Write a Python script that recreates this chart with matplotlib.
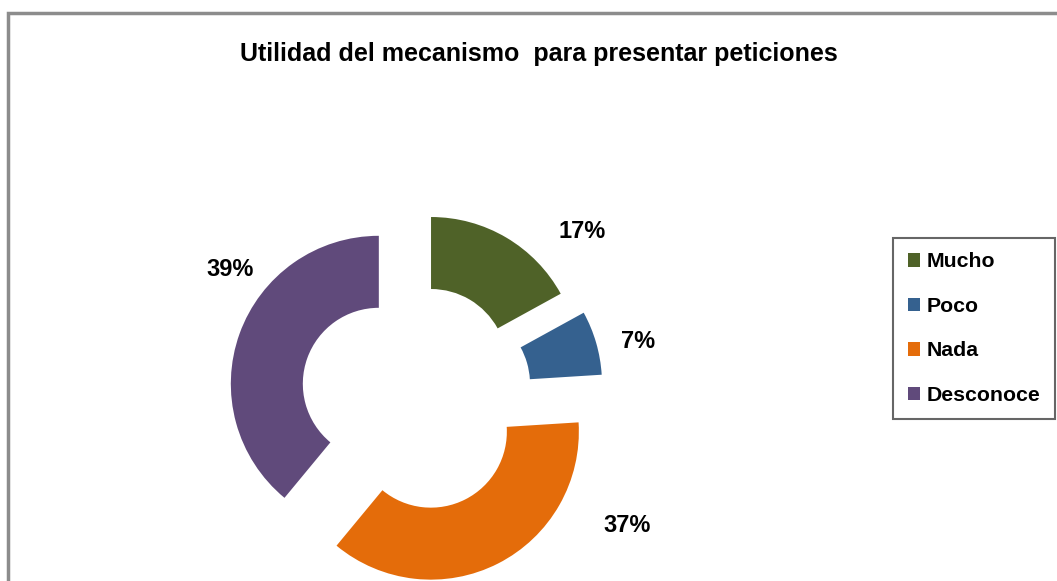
import matplotlib
matplotlib.use("Agg")
import matplotlib.pyplot as plt
from matplotlib.patches import Rectangle
from matplotlib import font_manager

categories = ["Mucho", "Poco", "Nada", "Desconoce"]
values = [17, 7, 37, 39]
pct_labels = ["17%", "7%", "37%", "39%"]
colors = ["#4F6228", "#35618F", "#E46C0A", "#604A7B"]
explode = [36, 43, 40, 36]
title = "Utilidad del mecanismo  para presentar peticiones"

names = {f.name for f in font_manager.fontManager.ttflist}
fam = None
for cand in ["Liberation Sans Narrow", "DejaVu Sans Condensed", "Liberation Sans"]:
    if cand in names:
        fam = cand
        break
if fam is None:
    fam = "DejaVu Sans"
plt.rcParams["font.family"] = [fam, "DejaVu Sans"]

W, H = 1057, 581
fig = plt.figure(figsize=(W / 100, H / 100), dpi=100)
ax = fig.add_axes([0, 0, 1, 1])

R = 148
center = (412.7, H - 396)
wedges, _ = ax.pie(values, colors=colors, startangle=90, counterclock=False,
                   radius=R, center=center, explode=explode,
                   wedgeprops=dict(width=72, linewidth=0))
ax.set_xlim(0, W)
ax.set_ylim(0, H)
ax.set_aspect("equal")
ax.axis("off")

label_pos = [(582, 232), (638, 342), (627, 526), (230, 269)]
for (x, y), t in zip(label_pos, pct_labels):
    ax.text(x, H - y, t, ha="center", va="center", fontsize=17,
            fontweight="bold", color="#000000")

fig.text(539 / W, 1 - 54 / H, title, ha="center", va="center",
         fontsize=18, fontweight="bold", color="#000000")

leg = fig.legend(wedges, categories, loc="upper right",
                 bbox_to_anchor=(1054.5 / W, 1 - 238 / H),
                 frameon=True, fancybox=False,
                 prop=dict(weight="bold", size=15.3),
                 handlelength=0.58, handleheight=0.58, handletextpad=0.3,
                 labelspacing=1.2, borderpad=0.68, borderaxespad=0)
leg.get_frame().set_edgecolor("#404040")
leg.get_frame().set_linewidth(1.5)

fig.patches.append(Rectangle((8 / W, -0.2), 1.2, 1 - 12.5 / H + 0.2,
                             transform=fig.transFigure, fill=False,
                             edgecolor="#8C8C8C", linewidth=2.5, clip_on=False))

fig.savefig("out.png", dpi=100)
